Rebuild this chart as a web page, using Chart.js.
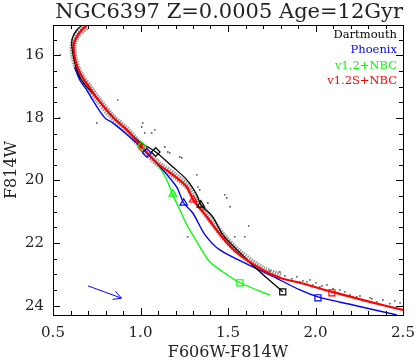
<!DOCTYPE html>
<html><head><meta charset="utf-8">
<script src="https://cdn.jsdelivr.net/npm/chart.js@4/dist/chart.umd.min.js"></script>
<style>html,body{margin:0;padding:0;background:#fff}canvas{display:block}</style>
</head><body>
<canvas id="c" width="415" height="361"></canvas>
<script>
// ---- data ----
const titleText = 'NGC6397 Z=0.0005 Age=12Gyr';
const xTitle = 'F606W-F814W';
const yTitle = 'F814W';
const xTicks = [0.5, 1.0, 1.5, 2.0, 2.5];
const yTicks = [16, 18, 20, 22, 24];
const seriesNames = ['Dartmouth', 'Phoenix', 'v1.2+NBC', 'v1.2S+NBC'];
const seriesColors = ['#000000', '#0000ff', '#00ff00', '#ff0000'];

const dartX = [0.672,0.636,0.613,0.607,0.613,0.624,0.653,0.693,0.750,0.841,0.921,0.996,1.087,1.185,1.265,1.322,1.345,1.413,1.471,1.568,1.682,1.813];
const dartY = [15.00,15.19,15.41,15.61,15.92,16.24,16.69,17.01,17.36,17.97,18.38,18.77,19.09,19.57,19.98,20.46,20.78,21.16,21.74,22.31,22.92,23.56];

const phxX = [0.624,0.653,0.693,0.727,0.796,0.841,0.939,1.036,1.127,1.207,1.247,1.299,1.369,1.453,1.642,1.740,1.911,2.014,2.214,2.465];
const phxY = [16.37,16.79,17.11,17.43,18.00,18.16,18.61,19.12,19.66,20.21,20.72,21.04,21.74,22.22,22.76,23.02,23.50,23.72,23.98,24.30];

const v12X = [1.013,1.099,1.150,1.185,1.225,1.270,1.305,1.350,1.396,1.470,1.568,1.740];
const v12Y = [18.96,19.50,19.98,20.46,20.94,21.48,21.80,22.22,22.60,22.92,23.27,23.66];

const v12sX = [0.700,0.664,0.636,0.618,0.624,0.641,0.670,0.710,0.750,0.841,0.921,1.013,1.093,1.185,1.265,1.301,1.379,1.465,1.551,1.699,1.796,1.911,2.094,2.311,2.500];
const v12sY = [15.00,15.19,15.41,15.67,16.05,16.40,16.72,17.04,17.36,17.97,18.38,18.96,19.44,19.82,20.21,20.62,21.16,21.80,22.31,22.86,23.11,23.27,23.56,23.88,24.14];

// marker points (diamond, triangle, square) per series
const dartMkX = [1.087,1.345,1.813], dartMkY = [19.09,20.78,23.56];
const phxMkX  = [1.036,1.247,2.014], phxMkY  = [19.12,20.72,23.75];
const v12MkX  = [1.007,1.185,1.568], v12MkY  = [18.90,20.43,23.27];
const v12sMkX = [1.013,1.301,2.094], v12sMkY = [18.96,20.62,23.59];
const markerShapes = ['rectRot','triangle','rect'];

// observed main-sequence ridge (dense star band)
const ridgeX = [0.690,0.655,0.628,0.615,0.620,0.638,0.668,0.710,0.750,0.840,0.920,1.013,1.095,1.190,1.270,1.315,1.385,1.470,1.560,1.700,1.800];
const ridgeY = [15.10,15.25,15.45,15.70,16.05,16.40,16.72,17.04,17.36,17.97,18.38,18.96,19.44,19.82,20.20,20.60,21.14,21.76,22.28,22.84,23.05];

// individual scattered stars
const starX = [0.542,0.538,0.870,0.750,1.007,1.024,1.082,1.013,1.064,1.139,1.156,1.167,1.225,1.322,1.339,1.482,1.493,1.270,1.356,1.539,1.236,1.328,1.385,1.511,1.619,1.596,
  1.739,1.796,1.893,1.968,2.065,2.139,2.213,2.311,2.385,2.483,1.911,1.951,1.985,2.025,2.128,2.197,2.236,2.271,2.351,2.425,1.825,1.865,1.928,2.002,2.037,2.100,2.168,2.254,2.322,2.453];
const starY = [15.99,18.00,17.43,18.16,18.29,18.48,18.38,18.16,18.48,18.93,19.09,19.12,19.25,19.82,20.30,20.46,20.56,21.80,20.94,21.80,19.28,20.21,20.72,20.84,21.45,21.80,
  22.89,22.92,23.08,23.18,23.34,23.50,23.72,23.75,23.82,23.91,23.24,23.24,23.34,23.40,23.59,23.66,23.72,23.82,23.88,23.94,23.05,23.14,23.21,23.27,23.37,23.46,23.56,23.69,23.78,23.85];

// reddening vector
const arrowX = [0.700, 0.891];
const arrowY = [23.37, 23.76];

// ---- build ----
const pts = (xs, ys) => xs.map((x, i) => ({x, y: ys[i]}));
const FONT = "'DejaVu Serif', serif";
const TXT = '#222';

const lineSets = [
  {xs: v12X, ys: v12Y, c: seriesColors[2], w: 1.3, order: 6},
  {xs: phxX, ys: phxY, c: seriesColors[1], w: 1.4, order: 5},
  {xs: dartX, ys: dartY, c: seriesColors[0], w: 1.3, order: 4},
  {xs: v12sX, ys: v12sY, c: seriesColors[3], w: 2.2, order: 3},
];
const mkSets = [
  {xs: dartMkX, ys: dartMkY, c: seriesColors[0]},
  {xs: phxMkX, ys: phxMkY, c: seriesColors[1]},
  {xs: v12MkX, ys: v12MkY, c: seriesColors[2]},
  {xs: v12sMkX, ys: v12sMkY, c: seriesColors[3]},
];
const nameFor = c => seriesNames[seriesColors.indexOf(c)];

const datasets = [
  {label: 'stars ridge', data: pts(ridgeX, ridgeY), showLine: true, borderColor: 'rgba(70,70,70,0.55)', borderWidth: 7, borderDash: [1.5, 1], pointRadius: 0, tension: 0.3, order: 10, fill: false},
  {label: 'stars', data: pts(starX, starY), showLine: false, pointRadius: 0.9, pointBackgroundColor: '#555', pointBorderWidth: 0, order: 9},
  ...lineSets.map(s => ({label: nameFor(s.c), data: pts(s.xs, s.ys), showLine: true, borderColor: s.c, borderWidth: s.w, pointRadius: 0, tension: 0.3, order: s.order, fill: false})),
  ...mkSets.map(s => ({label: nameFor(s.c) + ' markers', data: pts(s.xs, s.ys), showLine: false, pointStyle: markerShapes, pointRadius: 4.3, pointBorderColor: s.c, pointBackgroundColor: 'rgba(0,0,0,0)', pointBorderWidth: 1.2, order: 1})),
  {label: 'reddening', data: pts(arrowX, arrowY), showLine: true, borderColor: '#0000ff', borderWidth: 1, pointRadius: 0, order: 2, fill: false},
];

const decor = {
  id: 'decor',
  afterDraw(chart) {
    const {ctx, chartArea: a, scales: {x, y}} = chart;
    ctx.save();
    ctx.strokeStyle = '#000';
    ctx.lineWidth = 1;
    ctx.strokeRect(Math.round(a.left) + 0.5, Math.round(a.top) + 0.5, Math.round(a.right - a.left), Math.round(a.bottom - a.top));
    ctx.beginPath();
    const major = 7, minor = 4;
    for (let i = 5; i <= 25; i++) {
      const v = i / 10;
      const px = Math.round(x.getPixelForValue(v)) + 0.5;
      const L = (i % 5 === 0) ? major : minor;
      ctx.moveTo(px, a.bottom); ctx.lineTo(px, a.bottom - L);
      ctx.moveTo(px, a.top); ctx.lineTo(px, a.top + L);
    }
    for (let i = 30; i <= 48; i++) {
      const v = i / 2;
      if (v < y.min || v > y.max) continue;
      const py = Math.round(y.getPixelForValue(v)) + 0.5;
      const L = (i % 4 === 0) ? major : minor;
      ctx.moveTo(a.left, py); ctx.lineTo(a.left + L, py);
      ctx.moveTo(a.right, py); ctx.lineTo(a.right - L, py);
    }
    ctx.stroke();
    // arrowhead on reddening vector
    const ai = chart.data.datasets.findIndex(d => d.label === 'reddening');
    const m = chart.getDatasetMeta(ai).data;
    const p0 = m[0], p1 = m[1];
    const ang = Math.atan2(p1.y - p0.y, p1.x - p0.x);
    ctx.strokeStyle = '#0000ff';
    ctx.beginPath();
    for (const s of [-1, 1]) {
      ctx.moveTo(p1.x, p1.y);
      ctx.lineTo(p1.x - 9 * Math.cos(ang + s * 0.5), p1.y - 9 * Math.sin(ang + s * 0.5));
    }
    ctx.stroke();
    // legend text
    ctx.font = "11.5px " + FONT;
    ctx.textAlign = 'right';
    ctx.textBaseline = 'middle';
    seriesNames.forEach((n, i) => {
      ctx.fillStyle = seriesColors[i];
      ctx.fillText(n, a.right - 6, a.top + 10 + i * 15.5);
    });
    ctx.restore();
  }
};

new Chart(document.getElementById('c'), {
  type: 'scatter',
  data: {datasets},
  options: {
    responsive: false,
    animation: false,
    devicePixelRatio: 1,
    layout: {padding: {left: 0, right: 12, top: 0, bottom: 0}},
    plugins: {
      legend: {display: false},
      tooltip: {enabled: false},
      title: {display: true, text: titleText, align: 'end', color: TXT, font: {family: FONT, size: 21, weight: 'normal', lineHeight: 1.19}, padding: {top: 0, bottom: 0}}
    },
    scales: {
      x: {
        type: 'linear', min: 0.5, max: 2.5,
        afterBuildTicks: s => { s.ticks = xTicks.map(v => ({value: v})); },
        afterFit: s => { s.height = 46; s.paddingLeft = 0; s.paddingRight = 0; },
        grid: {display: false, drawTicks: false}, border: {display: false},
        ticks: {callback: v => Number(v).toFixed(1), color: TXT, font: {family: FONT, size: 15}, padding: 9, maxRotation: 0, autoSkip: false},
        title: {display: true, text: xTitle, color: TXT, font: {family: FONT, size: 16, lineHeight: 1}, padding: {top: 0, bottom: 0}}
      },
      y: {
        type: 'linear', min: 15.03, max: 24.3, reverse: true,
        afterBuildTicks: s => { s.ticks = yTicks.map(v => ({value: v})); },
        afterFit: s => { s.width = 53; s.paddingTop = 0; s.paddingBottom = 0; },
        grid: {display: false, drawTicks: false}, border: {display: false},
        ticks: {callback: v => String(v), color: TXT, font: {family: FONT, size: 15}, padding: 9, autoSkip: false},
        title: {display: true, text: yTitle, color: TXT, font: {family: FONT, size: 16, lineHeight: 1}, padding: {top: 4, bottom: 0}}
      }
    }
  },
  plugins: [decor]
});
</script>
</body></html>
